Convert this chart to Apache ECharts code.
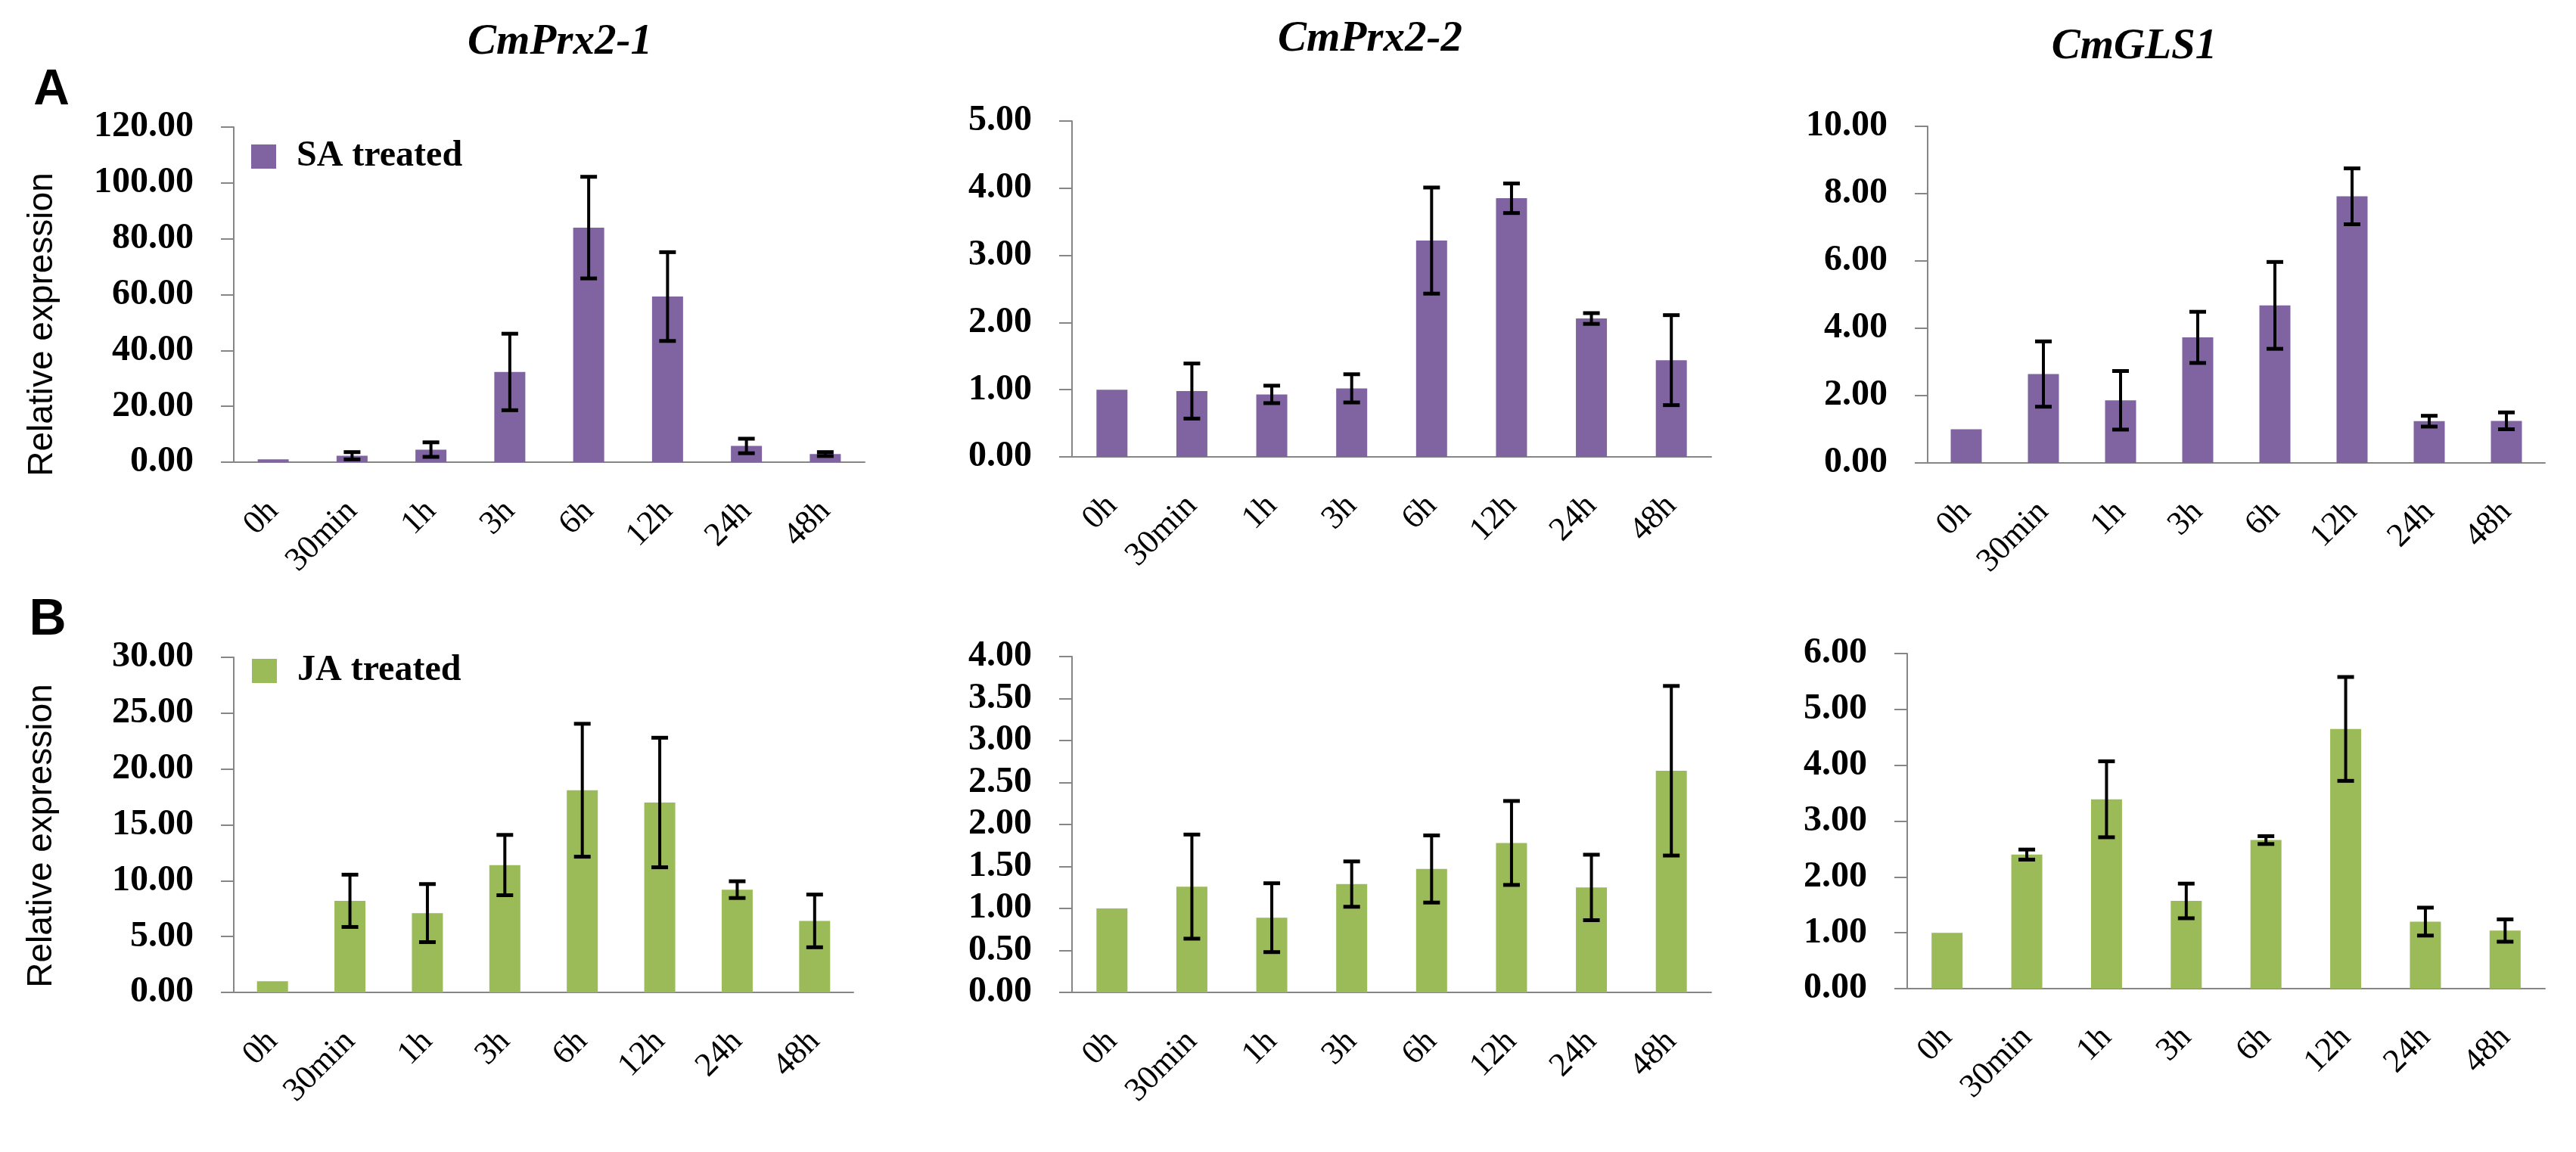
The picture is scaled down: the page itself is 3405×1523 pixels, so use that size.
<!DOCTYPE html>
<html>
<head>
<meta charset="utf-8">
<title>CmPrx2-1 / CmPrx2-2 / CmGLS1 relative expression</title>
<script src="https://cdn.jsdelivr.net/npm/echarts@6/dist/echarts.min.js"></script>
<style>
    html, body { margin: 0; padding: 0; background: #fff; }
    #main { width: 3405px; height: 1523px; }
</style>
</head>
<body>
<div id="main"></div>
<script>
// 时间点
var times = ['0h', '30min', '1h', '3h', '6h', '12h', '24h', '48h'];
var genes = ['CmPrx2-1', 'CmPrx2-2', 'CmGLS1'];

// SA treated (row A)
var saPrx21 = [1.00, 2.30, 4.50, 32.30, 84.00, 59.30, 5.80, 2.90];
var saPrx21Err = [0, 1.30, 2.60, 13.70, 18.20, 15.90, 2.60, 0.70];
var saPrx22 = [1.00, 0.98, 0.93, 1.02, 3.22, 3.85, 2.06, 1.44];
var saPrx22Err = [0, 0.41, 0.13, 0.21, 0.79, 0.22, 0.08, 0.67];
var saGls1 = [1.00, 2.64, 1.86, 3.73, 4.68, 7.92, 1.24, 1.25];
var saGls1Err = [0, 0.97, 0.87, 0.76, 1.29, 0.83, 0.16, 0.25];

// JA treated (row B)
var jaPrx21 = [1.00, 8.20, 7.10, 11.40, 18.10, 17.00, 9.20, 6.40];
var jaPrx21Err = [0, 2.34, 2.60, 2.70, 5.95, 5.80, 0.75, 2.36];
var jaPrx22 = [1.00, 1.26, 0.89, 1.29, 1.47, 1.78, 1.25, 2.64];
var jaPrx22Err = [0, 0.62, 0.41, 0.27, 0.40, 0.50, 0.39, 1.01];
var jaGls1 = [1.00, 2.40, 3.39, 1.57, 2.66, 4.65, 1.20, 1.04];
var jaGls1Err = [0, 0.09, 0.68, 0.31, 0.07, 0.93, 0.25, 0.20];

// y轴刻度 [max, interval]
var yScales = [[120, 20], [5, 1], [10, 2], [30, 5], [4, 0.5], [6, 1]];

var PURPLE = '#8064A2';
var GREEN = '#9BBB59';
var AXIS_GRAY = '#868686';

// 每个小图的绘图区 (px)
var grids = [
    {left: 309, top: 168, width: 834, height: 443},
    {left: 1417, top: 160, width: 845, height: 444},
    {left: 2548, top: 167, width: 816, height: 445},
    {left: 309, top: 869, width: 819, height: 443},
    {left: 1417, top: 868, width: 845, height: 444},
    {left: 2521, top: 864, width: 843, height: 443}
];

var panels = [
    {name: 'SA treated', color: PURPLE, values: saPrx21, errs: saPrx21Err},
    {name: 'SA treated', color: PURPLE, values: saPrx22, errs: saPrx22Err},
    {name: 'SA treated', color: PURPLE, values: saGls1, errs: saGls1Err},
    {name: 'JA treated', color: GREEN, values: jaPrx21, errs: jaPrx21Err},
    {name: 'JA treated', color: GREEN, values: jaPrx22, errs: jaPrx22Err},
    {name: 'JA treated', color: GREEN, values: jaGls1, errs: jaGls1Err}
];

/**
 * 误差线
 */
function renderErr(params, api) {
    var lo = api.coord([api.value(0), api.value(1)]);
    var hi = api.coord([api.value(0), api.value(2)]);
    if (Math.abs(hi[1] - lo[1]) < 0.5) {
        return null;
    }
    var w = 11;
    return {
        type: 'group',
        children: [
            {type: 'line', shape: {x1: hi[0], y1: hi[1], x2: lo[0], y2: lo[1]}, style: {stroke: '#000', lineWidth: 4}},
            {type: 'line', shape: {x1: hi[0] - w, y1: hi[1], x2: hi[0] + w, y2: hi[1]}, style: {stroke: '#000', lineWidth: 5}},
            {type: 'line', shape: {x1: lo[0] - w, y1: lo[1], x2: lo[0] + w, y2: lo[1]}, style: {stroke: '#000', lineWidth: 5}}
        ]
    };
}

var xAxes = [];
var yAxes = [];
var seriesData = [];

for (var i = 0; i < panels.length; i++) {
    var p = panels[i];
    xAxes.push({
        type: 'category',
        gridIndex: i,
        data: times,
        boundaryGap: true,
        axisLine: {lineStyle: {color: AXIS_GRAY, width: 2}},
        axisTick: {length: 16, lineStyle: {color: AXIS_GRAY, width: 2}},
        axisLabel: {
            rotate: 45,
            interval: 0,
            margin: 58,
            color: '#000',
            fontFamily: 'Liberation Serif',
            fontSize: 44
        }
    });
    yAxes.push({
        type: 'value',
        gridIndex: i,
        min: 0,
        max: yScales[i][0],
        interval: yScales[i][1],
        axisLine: {show: true, lineStyle: {color: AXIS_GRAY, width: 2}},
        axisTick: {show: true, length: 17, lineStyle: {color: AXIS_GRAY, width: 2}},
        splitLine: {show: false},
        axisLabel: {
            margin: 53,
            color: '#000',
            fontFamily: 'Liberation Serif',
            fontWeight: 'bold',
            fontSize: 48,
            formatter: function (v) { return v.toFixed(2); }
        }
    });

    var errData = [];
    for (var j = 0; j < times.length; j++) {
        errData.push([j, p.values[j] - p.errs[j], p.values[j] + p.errs[j]]);
    }

    seriesData.push({
        name: p.name,
        type: 'bar',
        xAxisIndex: i,
        yAxisIndex: i,
        barWidth: 41,
        itemStyle: {color: p.color},
        data: p.values
    });
    seriesData.push({
        name: p.name + ' SD',
        type: 'custom',
        xAxisIndex: i,
        yAxisIndex: i,
        renderItem: renderErr,
        encode: {x: 0, y: [1, 2]},
        z: 5,
        data: errData
    });
}

var legendText = {color: '#000', fontFamily: 'Liberation Serif', fontWeight: 'bold', fontSize: 48, padding: [0, 0, 0, 22]};

var textFont = function (size, style) {
    return style + ' ' + size + 'px "Liberation Serif"';
};

var graphics = [
    {type: 'text', x: 740, y: 56, style: {text: genes[0], font: textFont(57, 'italic bold'), fill: '#000', align: 'center', verticalAlign: 'middle'}},
    {type: 'text', x: 1811, y: 52, style: {text: genes[1], font: textFont(57, 'italic bold'), fill: '#000', align: 'center', verticalAlign: 'middle'}},
    {type: 'text', x: 2821, y: 62, style: {text: genes[2], font: textFont(57, 'italic bold'), fill: '#000', align: 'center', verticalAlign: 'middle'}},
    {type: 'text', x: 68, y: 120, style: {text: 'A', font: 'bold 66px "Liberation Sans"', fill: '#000', align: 'center', verticalAlign: 'middle'}},
    {type: 'text', x: 63, y: 820, style: {text: 'B', font: 'bold 68px "Liberation Sans"', fill: '#000', align: 'center', verticalAlign: 'middle'}},
    {type: 'text', x: 56, y: 429, rotation: Math.PI / 2, style: {text: 'Relative expression', font: '46px "Liberation Sans"', fill: '#000', align: 'center', verticalAlign: 'middle'}},
    {type: 'text', x: 55, y: 1105, rotation: Math.PI / 2, style: {text: 'Relative expression', font: '46px "Liberation Sans"', fill: '#000', align: 'center', verticalAlign: 'middle'}}
];

var option = {
    backgroundColor: '#fff',
    animation: false,
    grid: grids,
    xAxis: xAxes,
    yAxis: yAxes,
    legend: [
        {data: ['SA treated'], left: 332, top: 183, icon: 'rect', itemWidth: 33, itemHeight: 32, padding: 0, textStyle: legendText},
        {data: ['JA treated'], left: 333, top: 863, icon: 'rect', itemWidth: 33, itemHeight: 32, padding: 0, textStyle: legendText}
    ],
    graphic: graphics,
    series: seriesData
};

var dom_chart = echarts.init(document.getElementById('main'));
dom_chart.setOption(option);
</script>
</body>
</html>
